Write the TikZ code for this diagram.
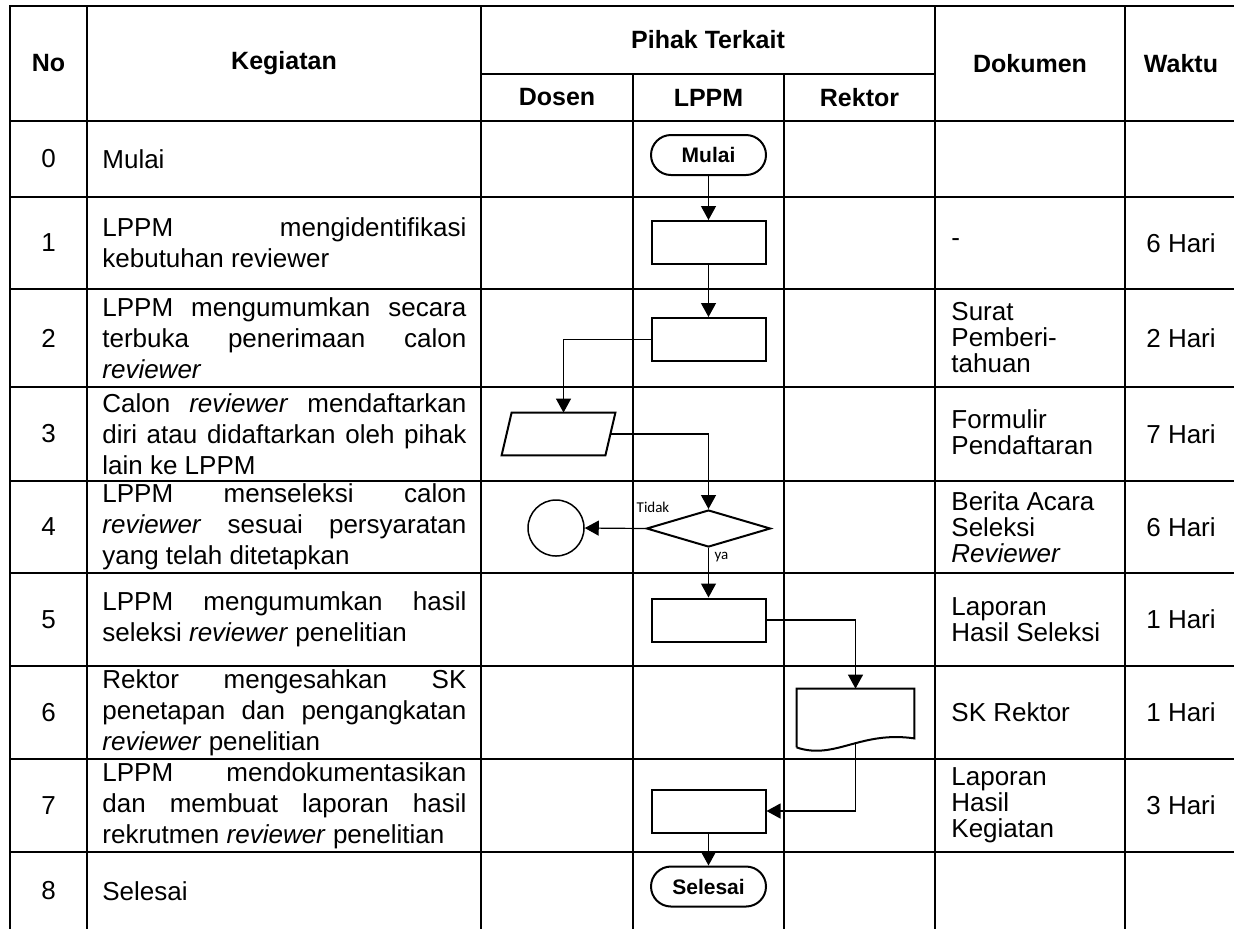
\documentclass[tikz,border=0pt]{standalone}
\usepackage{fontspec}
\setmainfont{Liberation Sans}
\newfontfamily\calib{Carlito}
\usepackage{tikz}
\usetikzlibrary{positioning,calc,shapes.geometric,arrows.meta}
% justified line of the Kegiatan column
\newcommand{\jline}[1]{\makebox[182pt][s]{#1}}

\begin{document}
\begin{tikzpicture}[x=0.5pt,y=-0.5pt,
    grid/.style={line width=0.9pt},
    head/.style={inner sep=0pt, font=\bfseries\fontsize{12.5}{15}\selectfont},
    cell/.style={inner sep=0pt, align=left, font=\fontsize{13}{15.5}\selectfont},
    dok/.style={inner sep=0pt, align=left, anchor=west, font=\fontsize{13}{13}\selectfont},
    term/.style={draw, line width=1pt, rounded corners=10pt, minimum width=57.5pt, minimum height=20pt, inner sep=0pt, font=\bfseries\fontsize{10.5}{12}\selectfont},
    proc/.style={draw, line width=1pt, minimum width=57pt, minimum height=21.5pt, inner sep=0pt},
    io/.style={minimum width=51.5pt, minimum height=21pt, inner sep=0pt},
    outline/.style={line width=1pt, line join=miter},
    decision/.style={diamond, draw, line width=1pt, minimum width=62pt, minimum height=18.5pt, inner sep=0pt},
    conn/.style={circle, draw, line width=0.75pt, minimum size=28pt, inner sep=0pt},
    docbox/.style={minimum width=58.5pt, minimum height=26.5pt, inner sep=0pt},
    flow/.style={line width=0.6pt, -{Triangle[length=7pt,width=7.5pt]}},
    lbl/.style={inner sep=0pt, font=\calib\fontsize{7.5}{9}\selectfont}]

    \useasboundingbox (0,0) rectangle (1234,928);
    \clip (0,0) rectangle (1234,928);

    % table
    \draw[grid] (1240,6) -- (10,6) -- (10,935);
    \draw[grid] (481,74) -- (935,74);
    \foreach \y in {121,197,289,387,481,573,666,759,852}
      \draw[grid] (10,\y) -- (1240,\y);
    \foreach \x in {87,481,935,1125}
      \draw[grid] (\x,6) -- (\x,935);
    \foreach \x in {633,784}
      \draw[grid] (\x,74) -- (\x,935);

    % header
    \node[head] (hno) at (48.5,63.5) {No};
    \node[head] (hkeg) at (284,63.5) {Kegiatan};
    \node[head] (hpihak) at (708,40) {Pihak Terkait};
    \node[head] (hdosen) at (557,97.5) {Dosen};
    \node[head] (hlppm) at (708.5,97.5) {LPPM};
    \node[head] (hrektor) at (859.5,97.5) {Rektor};
    \node[head] (hdok) at (1030,63.5) {Dokumen};
    \node[head] (hwaktu) at (1181,63.5) {Waktu};

    % nomor
    \foreach \n/\y in {0/159,1/243,2/338,3/434,4/527,5/619.5,6/712.5,7/805.5,8/891}
      \node[cell] (no\n) at (48.5,\y) {\n};

    % kegiatan
    \node[cell, anchor=west] (keg0) at (102,159) {Mulai};
    \node[cell, anchor=west] (keg1) at (102,243) {\jline{LPPM mengidentifikasi}\\ kebutuhan reviewer};
    \node[cell, anchor=west] (keg2) at (102,338) {\jline{LPPM mengumumkan secara}\\ \jline{terbuka penerimaan calon}\\ \textit{reviewer}};
    \node[cell, anchor=west] (keg3) at (102,434) {\jline{Calon \textit{reviewer} mendaftarkan}\\ \jline{diri atau didaftarkan oleh pihak}\\ lain ke LPPM};
    \node[cell, anchor=west] (keg4) at (102,527) {\jline{LPPM menseleksi calon}\\ \jline{\textit{reviewer} sesuai persyaratan}\\ yang telah ditetapkan};
    \node[cell, anchor=west] (keg5) at (102,619.5) {\jline{LPPM mengumumkan hasil}\\ seleksi \textit{reviewer} penelitian};
    \node[cell, anchor=west] (keg6) at (102,712.5) {\jline{Rektor mengesahkan SK}\\ \jline{penetapan dan pengangkatan}\\ \textit{reviewer} penelitian};
    \node[cell, anchor=west] (keg7) at (102,805.5) {\jline{LPPM mendokumentasikan}\\ \jline{dan membuat laporan hasil}\\ rekrutmen \textit{reviewer} penelitian};
    \node[cell, anchor=west] (keg8) at (102,891) {Selesai};

    % dokumen
    \node[dok] (dok1) at (951,243) {-};
    \node[dok] (dok2) at (951,338) {Surat\\ Pemberi-\\ tahuan};
    \node[dok] (dok3) at (951,432) {Formulir\\ Pendaftaran};
    \node[dok] (dok4) at (951,527) {Berita Acara\\ Seleksi\\ \textit{Reviewer}};
    \node[dok] (dok5) at (951,619.5) {Laporan\\ Hasil Seleksi};
    \node[dok] (dok6) at (951,712.5) {SK Rektor};
    \node[dok] (dok7) at (951,805.5) {Laporan\\ Hasil\\ Kegiatan};

    % waktu
    \foreach \n/\y/\h in {1/243/6,2/338/2,3/434/7,4/527/6,5/619.5/1,6/712.5/1,7/805.5/3}
      \node[cell] (wkt\n) at (1181,\y) {\h\ Hari};

    % flowchart
    \node[term] (mulai) at (708.5,155) {Mulai};
    \node[proc] (p1) at (708.5,242.5) {};
    \node[proc] (p2) at (708.5,339.5) {};
    \node[io] (daftar) at (558.5,434) {};
    \draw[outline] ($(daftar.south west)+(-5,0)$) -- ($(daftar.north west)+(5,0)$)
      -- ($(daftar.north east)+(5,0)$) -- ($(daftar.south east)+(-5,0)$) -- cycle;
    \node[decision] (seleksi) at (708.5,528.5) {};
    \node[conn] (henti) at (556,528) {};
    \node[proc] (p5) at (708.5,620) {};
    \node[docbox] (sk) at (855.5,715.5) {};
    \draw[outline] ($(sk.south west)+(0,5)$) -- (sk.north west) -- (sk.north east)
      -- ($(sk.south east)+(0,-4)$) .. controls ($(sk.south east)+(-54,-12)$) and ($(sk.south west)+(38,18)$) .. ($(sk.south west)+(0,5)$);
    \node[proc] (p7) at (708.5,811) {};
    \node[term] (selesai) at (708.5,886.5) {Selesai};

    \node[lbl] (tidak) at (653,507) {Tidak};
    \node[lbl] (ya) at (721.5,557) {ya};

    \draw[flow] (mulai) -- (p1);
    \draw[flow] (p1) -- (p2);
    \draw[flow] (p2.west) -| ($(daftar.north)+(5,0)$);
    \draw[flow] (daftar.east) -| (seleksi.north);
    \draw[flow] (seleksi.west) -- (henti.east);
    \draw[flow] (seleksi.south) -- (p5.north);
    \draw[flow] (p5.east) -| (sk.north);
    \draw[flow] (sk.south) |- (p7.east);
    \draw[flow] (p7) -- (selesai);
\end{tikzpicture}
\end{document}
